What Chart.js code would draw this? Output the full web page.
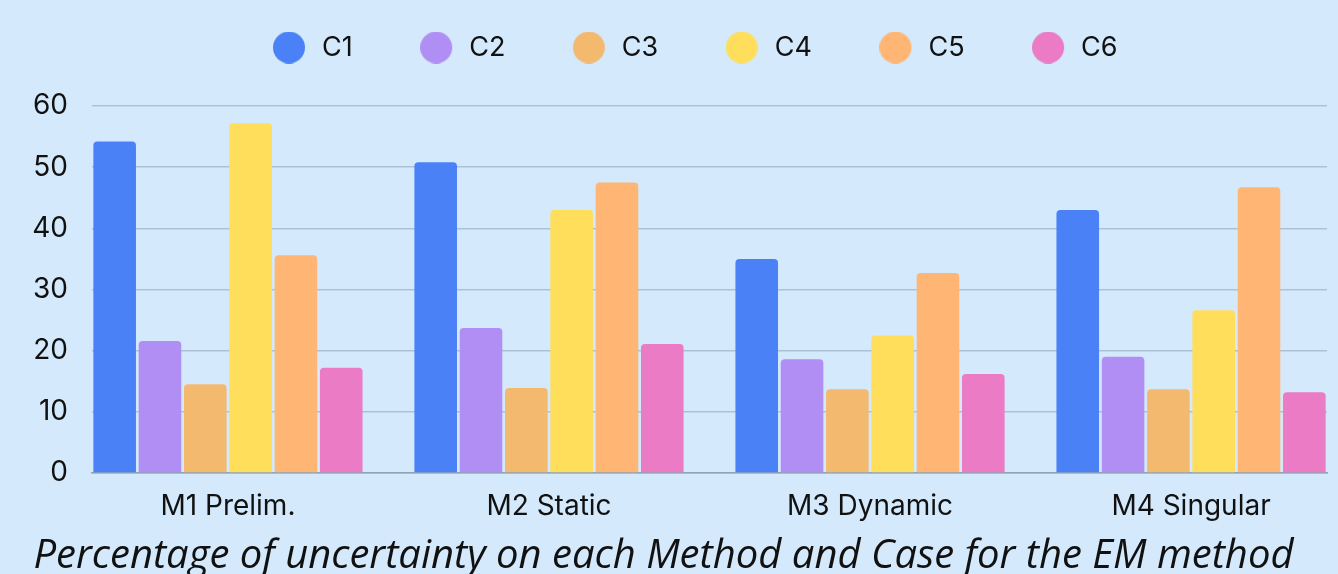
<!DOCTYPE html>
<html>
<head>
<meta charset="utf-8">
<script src="https://cdn.jsdelivr.net/npm/chart.js@4.4.1/dist/chart.umd.min.js"></script>
<style>
  html, body { margin: 0; padding: 0; overflow: hidden; background: #d4eafc; }
  /* the reference is a crop of a taller chart, so the canvas overhangs top and bottom */
  #wrap { position: absolute; left: 0; top: -50px; width: 1338px; height: 654px; }
</style>
</head>
<body>
<div id="wrap"><canvas id="chart"></canvas></div>
<script>
// Data
const methods = ['M1 Prelim.', 'M2 Static', 'M3 Dynamic', 'M4 Singular'];
const cases = ['C1', 'C2', 'C3', 'C4', 'C5', 'C6'];
const c1 = [54.2, 50.8, 35.0, 43.0];
const c2 = [21.6, 23.7, 18.6, 19.0];
const c3 = [14.5, 13.9, 13.7, 13.7];
const c4 = [57.2, 43.0, 22.5, 26.6];
const c5 = [35.6, 47.5, 32.7, 46.7];
const c6 = [17.2, 21.1, 16.2, 13.2];
const yMax = 60;
const yStep = 10;
const titleText = 'Percentage of uncertainty on each Method and Case for the EM method';

const caseColors = ['#4b81f7', '#b08ef3', '#f3b96f', '#ffde5c', '#ffb573', '#ea7bc4'];
const textColor = '#111';
const tickFont = { family: 'Inter', size: 28 };
const legendFont = { family: 'Inter', size: 27 };

const CAT_PCT = 0.847;
const BAR_PCT = 0.94;
// groups sit flush against both edges of the plot area
const trim = (1 - CAT_PCT) / 2;

// Legend dot, drawn left of centre so there's a wider gap before the text
function makeMarker(color) {
  const c = document.createElement('canvas');
  c.width = 44;
  c.height = 32;
  const g = c.getContext('2d');
  g.fillStyle = color;
  g.beginPath();
  g.arc(16, 16, 16, 0, Math.PI * 2);
  g.fill();
  return c;
}
const markers = caseColors.map(makeMarker);

// Extra room between legend and plot, and nudge the legend row a bit left
const legendGap = {
  id: 'legendGap',
  beforeInit(chart) {
    if (!chart.legend) return;
    const fit = chart.legend.fit;
    chart.legend.fit = function () {
      fit.call(this);
      this.height += 35;
      if (this.lineWidths && this.lineWidths.length) this.lineWidths[0] += 20;
    };
  }
};

const series = [c1, c2, c3, c4, c5, c6];

const ctx = document.getElementById('chart').getContext('2d');
new Chart(ctx, {
  type: 'bar',
  data: {
    datasets: series.map((vals, i) => ({
      label: cases[i],
      data: vals.map((v, j) => ({ x: j, y: v })),
      backgroundColor: caseColors[i],
      borderRadius: 4,
      categoryPercentage: CAT_PCT,
      barPercentage: BAR_PCT
    }))
  },
  options: {
    responsive: true,
    maintainAspectRatio: false,
    animation: false,
    layout: { padding: { top: 8, right: 11, bottom: 0, left: 0 } },
    scales: {
      x: {
        type: 'linear',
        offset: false,
        min: -0.5 + trim,
        max: methods.length - 0.5 - trim,
        afterBuildTicks(scale) {
          scale.ticks = methods.map((_, i) => ({ value: i }));
        },
        afterFit(scale) { scale.height = 52; },
        ticks: {
          callback: (v) => methods[v],
          font: tickFont,
          color: textColor,
          padding: 17,
          maxRotation: 0,
          autoSkip: false
        },
        grid: { display: false, drawTicks: false },
        border: { color: '#8fa3b6', width: 1.5 }
      },
      y: {
        min: 0,
        max: yMax,
        ticks: { stepSize: yStep, padding: 24, font: tickFont, color: textColor },
        grid: { color: '#abc1d5', lineWidth: 1.5, drawTicks: false },
        border: { display: false },
        afterFit(scale) { scale.width = 92; }
      }
    },
    plugins: {
      legend: {
        position: 'top',
        fullSize: false,
        labels: {
          usePointStyle: true,
          boxWidth: 27,
          boxHeight: 23,
          padding: 76,
          font: legendFont,
          color: textColor,
          generateLabels(chart) {
            const items = Chart.defaults.plugins.legend.labels.generateLabels(chart);
            items.forEach((item, i) => { item.pointStyle = markers[i]; });
            return items;
          }
        }
      },
      title: {
        display: true,
        position: 'bottom',
        text: titleText,
        font: { family: 'Open Sans', style: 'italic', size: 40, weight: 'normal' },
        color: textColor,
        padding: { top: 7.5, bottom: 23.5 }
      },
      tooltip: { enabled: false }
    }
  },
  plugins: [legendGap]
});
</script>
</body>
</html>
